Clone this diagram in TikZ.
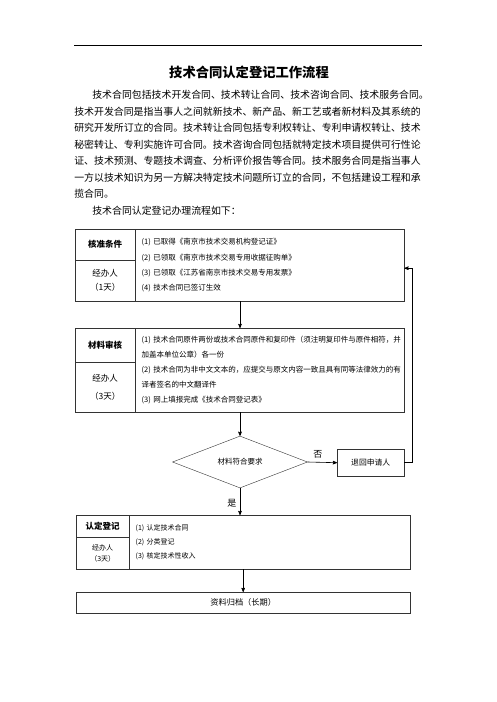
\documentclass[tikz,border=0pt]{standalone}
\usepackage{fontspec}
\setmainfont{Noto Sans CJK SC}
\usetikzlibrary{positioning}
\usetikzlibrary{arrows}
\usetikzlibrary{shapes}
\tikzset{every picture/.style={semithick, >=stealth'}}
\tikzset{
  para/.style={anchor=west, inner sep=0, font=\fontsize{9.9}{12}\selectfont},
  cell/.style={draw=black!80, thin, anchor=north west, inner sep=0},
  head/.style={cell, font=\fontsize{8.5}{10}\selectfont\bfseries},
  items/.style={cell, align=left, inner xsep=6pt},
}
\begin{document}
\begin{tikzpicture}[x=1pt, y=-1pt]
        \useasboundingbox (0,0) rectangle (496,702);
        \draw[line width=1pt] (74,45) -- (422,45);
        \node[font=\fontsize{13.3}{15}\selectfont\bfseries] (title) at (249,72) {技术合同认定登记工作流程};
        \node[para] (l1) at (92,95) {技术合同包括技术开发合同、技术转让合同、技术咨询合同、技术服务合同。};
        \node[para] (l2) at (74,111.5) {技术开发合同是指当事人之间就新技术、新产品、新工艺或者新材料及其系统的};
        \node[para] (l3) at (74,128) {研究开发所订立的合同。技术转让合同包括专利权转让、专利申请权转让、技术};
        \node[para] (l4) at (74,144.5) {秘密转让、专利实施许可合同。技术咨询合同包括就特定技术项目提供可行性论};
        \node[para] (l5) at (74,161) {证、技术预测、专题技术调查、分析评价报告等合同。技术服务合同是指当事人};
        \node[para] (l6) at (74,177.5) {一方以技术知识为另一方解决特定技术问题所订立的合同，不包括建设工程和承};
        \node[para] (l7) at (74,194) {揽合同。};
        \node[para] (l8) at (92,210.5) {技术合同认定登记办理流程如下：};
        % 核准条件
        \node[head, minimum width=60, minimum height=31] (hd1) at (75,229) {核准条件};
        \node[cell, minimum width=60, minimum height=41, align=center, font=\fontsize{8.5}{14}\selectfont] (pp1) at (75,260) {经办人\\（1天）};
        \node[items, minimum width=269, minimum height=72, text width=256, font=\fontsize{7.5}{15.3}\selectfont] (ct1) at (135,229)
          {(1) 已取得《南京市技术交易机构登记证》\\(2) 已领取《南京市技术交易专用收据征购单》\\(3) 已领取《江苏省南京市技术交易专用发票》\\(4) 技术合同已签订生效};
        % 材料审核
        \node[head, minimum width=60, minimum height=34] (hd2) at (75,328) {材料审核};
        \node[cell, minimum width=60, minimum height=50, align=center, font=\fontsize{8.5}{18}\selectfont] (pp2) at (75,362) {经办人\\（3天）};
        \node[items, minimum width=269, minimum height=84, text width=256, font=\fontsize{7.5}{15}\selectfont] (ct2) at (135,328)
          {(1) 技术合同原件两份或技术合同原件和复印件（须注明复印件与原件相符，并\\加盖本单位公章）各一份\\(2) 技术合同为非中文文本的，应提交与原文内容一致且具有同等法律效力的有\\译者签名的中文翻译件\\(3) 网上填报完成《技术合同登记表》};
        \node[draw=black!80, thin, diamond, inner sep=0, minimum width=135, minimum height=51, font=\fontsize{7.5}{9}\selectfont] (dia) at (240,462) {材料符合要求};
        \node[cell, minimum width=67, minimum height=27, font=\fontsize{7.8}{9}\selectfont] (rej) at (337,449) {退回申请人};
        % 认定登记
        \node[head, minimum width=53, minimum height=22] (hd3) at (76,515) {认定登记};
        \node[cell, minimum width=53, minimum height=32, align=center, font=\fontsize{7}{10.5}\selectfont] (pp3) at (76,537) {经办人\\（3天）};
        \node[items, minimum width=281, minimum height=54, text width=268, font=\fontsize{7}{14}\selectfont] (ct3) at (129,515)
          {(1) 认定技术合同\\(2) 分类登记\\(3) 核定技术性收入};
        \node[cell, minimum width=334, minimum height=21, font=\fontsize{8.2}{10}\selectfont] (arc) at (76,592) {资料归档（长期）};
        % connectors
        \draw[->] (dia |- ct1.south) -- (dia |- hd2.north);
        \draw[->] (dia |- ct2.south) -- (dia.north);
        \draw[->] (dia.east) -- node[pos=0.35, above, font=\fontsize{9}{10}\selectfont] {否} (rej.west);
        \draw[->] (rej.east) -- ++(8,0) |- ([yshift=-3pt]ct1.east);
        \draw[->] (dia.south) -- node[pos=0.55, left, font=\fontsize{9}{10}\selectfont] {是} (dia.south |- hd3.north);
        \draw[->] (arc.north |- ct3.south) -- (arc.north);
    \end{tikzpicture}
\end{document}
